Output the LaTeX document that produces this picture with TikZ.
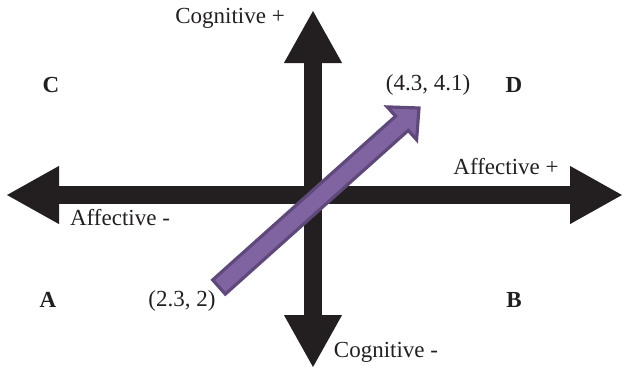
\documentclass[tikz,border=0pt]{standalone}
\usepackage{fontspec}
\setmainfont{Liberation Serif}
\usetikzlibrary{arrows.meta}
\definecolor{axisblack}{HTML}{231F20}
\definecolor{purplefill}{HTML}{8064A2}
\definecolor{purpleedge}{HTML}{5F497A}
\tikzset{
  axis/.style={draw=axisblack, line width=9pt,
    {Triangle[length=26.5pt,width=27pt]}-{Triangle[length=26.5pt,width=27pt]}},
  lbl/.style={font=\fontsize{11.5}{13}\selectfont, inner sep=0pt, text=axisblack},
  quad/.style={font=\fontsize{11.5}{13}\selectfont\bfseries, inner sep=0pt, text=axisblack},
  bigarrow/.style={fill=purplefill, draw=purpleedge, line width=1.6pt, line join=miter}
}
\begin{document}
\begin{tikzpicture}[x=0.5pt,y=-0.5pt]
\useasboundingbox (0,0) rectangle (624,370);
% axes
\coordinate (hl) at (6,195);
\coordinate (hr) at (623,195);
\coordinate (vt) at (313,10);
\coordinate (vb) at (313,368);
\draw[axis] (hl) -- (hr);
\draw[axis] (vb) -- (vt);
% purple arrow
\draw[bigarrow] (225.3,294.1) -- (212.7,279.9) -- (395.6,116.2) -- (387.2,106.9)
  -- (419,108) -- (416.6,139.7) -- (408.2,130.4) -- cycle;
% labels
\node[lbl] (cogp) at (230,18) {Cognitive +};
\node[lbl] (cogm) at (386,352) {Cognitive -};
\node[lbl] (affp) at (506,167) {Affective +};
\node[lbl] (affm) at (120,218) {Affective -};
\node[lbl] (pend) at (428,85) {(4.3, 4.1)};
\node[lbl] (pstart) at (182,301) {(2.3, 2)};
\node[quad] (qc) at (51,85) {C};
\node[quad] (qd) at (514,85) {D};
\node[quad] (qa) at (48,300) {A};
\node[quad] (qb) at (514,300) {B};
\end{tikzpicture}
\end{document}
